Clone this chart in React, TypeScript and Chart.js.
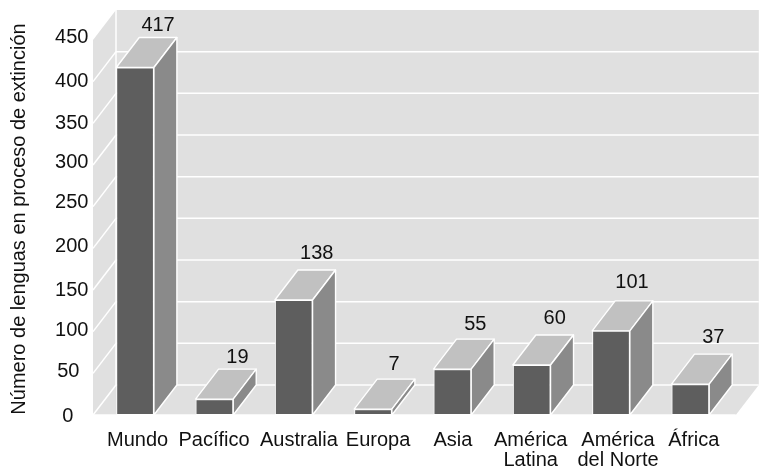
import React, { useEffect, useRef } from "react";
import { Chart, registerables } from "chart.js";

Chart.register(...registerables);

const regions = [
  "Mundo",
  "Pacífico",
  "Australia",
  "Europa",
  "Asia",
  ["América", "Latina"],
  ["América", "del Norte"],
  "África",
];
const languages = [417, 19, 138, 7, 55, 60, 101, 37];
const labelLift = [12, 12, 17, 15, 15, 17, 18, 17];
const labelShift = [0, 0, 0, -2, 0, 0, -2, 0];
const regionLabelShift = [2.6, -0.4, 5.2, 5, 0.5, -1, 7, 3.5];
// Nudges for the value-axis labels, in tick order from 0 up to 450.
const valueLabelShiftX = [-15, -9, 0, 0, 0, 0, 0, 0, 0, 0];
const valueLabelShiftY = [1, -1.6, -0.7, 0, -2.3, -3.7, -3, 0.4, 0.3, -3];
const axisTitle = "Número de lenguas en proceso de extinción";

const FONT = '"Liberation Sans", Arial, sans-serif';
const DEPTH_X = 23;
const DEPTH_Y = 30;
const WALL = "#e0e0e0";
const FRONT = "#5e5e5e";
const TOP = "#c1c1c1";
const SIDE = "#8a8a8a";

function poly(ctx: CanvasRenderingContext2D, pts: number[][], fill: string | null, stroke: string, lw = 1.4) {
  ctx.beginPath();
  pts.forEach(([x, y], i) => (i ? ctx.lineTo(x, y) : ctx.moveTo(x, y)));
  ctx.closePath();
  if (fill) {
    ctx.fillStyle = fill;
    ctx.fill();
  }
  ctx.strokeStyle = stroke;
  ctx.lineWidth = lw;
  ctx.lineJoin = "round";
  ctx.stroke();
}

// Back wall, side wall and floor of the 3D box, with gridlines taken from the value scale.
const roomPlugin = {
  id: "room",
  beforeDraw(chart: any) {
    const { ctx, chartArea, scales } = chart;
    const y = scales.y;
    const left = chartArea.left - 2.4;
    const right = chartArea.right + 5.8;
    const top = y.getPixelForValue(450);
    const bottom = y.getPixelForValue(0);

    scales.x.getLabelItems().forEach((item: any, i: number) => {
      item.options.translation[0] += regionLabelShift[i];
    });
    y.getLabelItems().forEach((item: any, i: number) => {
      item.options.translation[0] += valueLabelShiftX[i];
      item.options.translation[1] += valueLabelShiftY[i];
    });

    ctx.save();
    ctx.fillStyle = WALL;
    ctx.beginPath();
    ctx.moveTo(left, top);
    ctx.lineTo(left + DEPTH_X, top - DEPTH_Y);
    ctx.lineTo(right + DEPTH_X, top - DEPTH_Y);
    ctx.lineTo(right + DEPTH_X, bottom - DEPTH_Y);
    ctx.lineTo(right, bottom);
    ctx.lineTo(left, bottom);
    ctx.closePath();
    ctx.fill();
    ctx.strokeStyle = "#ffffff";
    ctx.lineWidth = 1.5;
    const line = (x1: number, y1: number, x2: number, y2: number) => {
      ctx.beginPath();
      ctx.moveTo(x1, y1);
      ctx.lineTo(x2, y2);
      ctx.stroke();
    };
    for (const t of y.ticks) {
      const py = y.getPixelForValue(t.value);
      if (t.value < 450) {
        line(left, py, left + DEPTH_X, py - DEPTH_Y);
        line(left + DEPTH_X, py - DEPTH_Y, right + DEPTH_X, py - DEPTH_Y);
      }
    }
    line(left + DEPTH_X, top - DEPTH_Y, left + DEPTH_X, bottom - DEPTH_Y);
    line(left, bottom, right, bottom);
    ctx.restore();
  },
  // Top and side faces of each bar, extruded from the bar element itself.
  beforeDatasetsDraw(chart: any) {
    const { ctx } = chart;
    ctx.save();
    chart.getDatasetMeta(0).data.forEach((bar: any) => {
      const { x, y, width, base } = bar.getProps(["x", "y", "width", "base"], true);
      const l = x - width / 2;
      const r = x + width / 2;
      poly(ctx, [[l, y], [l + DEPTH_X, y - DEPTH_Y], [r + DEPTH_X, y - DEPTH_Y], [r, y]], TOP, "#ffffff");
      poly(ctx, [[r, y], [r + DEPTH_X, y - DEPTH_Y], [r + DEPTH_X, base - DEPTH_Y], [r, base]], SIDE, "#ffffff");
    });
    ctx.restore();
  },
  afterDatasetsDraw(chart: any) {
    const { ctx } = chart;
    ctx.save();
    ctx.fillStyle = "#111111";
    ctx.textAlign = "center";
    ctx.textBaseline = "middle";
    ctx.font = `20px ${FONT}`;
    chart.getDatasetMeta(0).data.forEach((bar: any, i: number) => {
      const { x, y } = bar.getProps(["x", "y"], true);
      ctx.fillText(String(languages[i]), x + DEPTH_X + labelShift[i], y - DEPTH_Y - labelLift[i]);
    });
    ctx.translate(19, 219);
    ctx.rotate(-Math.PI / 2);
    ctx.font = `20px ${FONT}`;
    ctx.fillText(axisTitle, 0, 0);
    ctx.restore();
  },
};

export default function App() {
  const ref = useRef<HTMLCanvasElement>(null);
  useEffect(() => {
    const chart = new Chart(ref.current!, {
      type: "bar",
      data: {
        labels: regions as any,
        datasets: [
          {
            data: languages,
            backgroundColor: FRONT,
            borderColor: "#ffffff",
            borderWidth: 1,
            borderSkipped: false,
            categoryPercentage: 1,
            barPercentage: 0.475,
          },
        ],
      },
      options: {
        responsive: false,
        animation: false,
        layout: { padding: { top: 40, right: 32, left: 0, bottom: 0 } },
        plugins: { legend: { display: false }, tooltip: { enabled: false } },
        scales: {
          x: {
            grid: { display: false, drawTicks: false },
            border: { display: false },
            afterFit: (s: any) => {
              s.height = 54;
            },
            ticks: {
              color: "#111111",
              font: { family: FONT, size: 20, lineHeight: 1 },
              maxRotation: 0,
              autoSkip: false,
              padding: 15,
            },
          },
          y: {
            min: 0,
            max: 450,
            grid: { display: false, drawTicks: false },
            border: { display: false },
            afterFit: (s: any) => {
              s.width = 95.4;
            },
            ticks: {
              stepSize: 50,
              color: "#111111",
              font: { family: FONT, size: 20 },
              padding: 7,
            },
          },
        },
      },
      plugins: [roomPlugin],
    } as any);
    return () => chart.destroy();
  }, []);
  return (
    <canvas
      ref={ref}
      width={762}
      height={469}
      style={{ position: "fixed", left: 0, top: 0, width: 762, height: 469 }}
    />
  );
}
